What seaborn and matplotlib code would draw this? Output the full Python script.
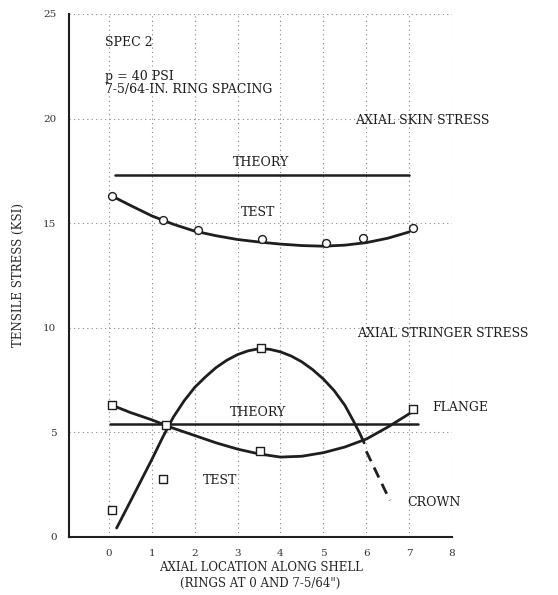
import numpy as np
import pandas as pd
import seaborn as sns
import matplotlib
matplotlib.use('Agg')
import matplotlib.pyplot as plt

# axial skin stress (upper group)
skin_theory_x = [0.14, 7.0]
skin_theory_y = [17.3, 17.3]
skin_test_x = [0.07, 1.26, 2.07, 3.57, 5.06, 5.92, 7.09]
skin_test_y = [16.3, 15.15, 14.67, 14.24, 14.05, 14.3, 14.77]
skin_fit_x = [0.07, 0.5, 1.0, 1.5, 2.0, 2.5, 3.0, 3.5, 4.0, 4.5, 5.0, 5.5, 6.0, 6.5, 7.0]
skin_fit_y = [16.3, 15.85, 15.35, 14.95, 14.62, 14.4, 14.22, 14.1, 14.0, 13.93, 13.9, 13.95, 14.07, 14.28, 14.58]

# axial stringer stress (lower group)
str_theory_x = [0.02, 7.2]
str_theory_y = [5.4, 5.4]
flange_test_x = [0.07, 1.33, 3.52, 7.09]
flange_test_y = [6.3, 5.35, 4.1, 6.1]
flange_fit_x = [0.07, 0.5, 1.0, 1.5, 2.0, 2.5, 3.0, 3.5, 4.0, 4.5, 5.0, 5.5, 6.0, 6.5, 7.05]
flange_fit_y = [6.3, 5.95, 5.6, 5.2, 4.85, 4.5, 4.2, 3.97, 3.82, 3.86, 4.03, 4.3, 4.68, 5.25, 5.95]
crown_test_x = [0.07, 1.26, 3.54]
crown_test_y = [1.3, 2.75, 9.03]
crown_fit_x = [0.18, 0.5, 0.75, 1.0, 1.25, 1.5, 1.75, 2.0, 2.25, 2.5, 2.75, 3.0, 3.25, 3.5,
               3.75, 4.0, 4.25, 4.5, 4.75, 5.0, 5.25, 5.5, 5.7, 5.85, 5.95]
crown_fit_y = [0.43, 1.7, 2.7, 3.7, 4.75, 5.72, 6.5, 7.15, 7.65, 8.1, 8.45, 8.72, 8.9, 9.0,
               8.97, 8.85, 8.65, 8.37, 8.0, 7.55, 7.0, 6.3, 5.55, 4.95, 4.5]
crown_dash_x = [6.0, 6.55]
crown_dash_y = [4.1, 1.75]

x_ticks = [0, 1, 2, 3, 4, 5, 6, 7, 8]
y_ticks = [0, 5, 10, 15, 20, 25]

sns.set_style("white")
plt.rcParams['font.family'] = ['DejaVu Serif']

fig = plt.figure(figsize=(5.58, 5.95), dpi=100)
ax = fig.add_axes([0.1237, 0.0975, 0.6864, 0.879])

ink = '#1e1e1e'

def line(xs, ys, **kw):
    df = pd.DataFrame({'x': xs, 'y': ys})
    sns.lineplot(data=df, x='x', y='y', estimator=None, sort=False, ax=ax, color=ink, **kw)

def pts(xs, ys, marker):
    df = pd.DataFrame({'x': xs, 'y': ys})
    sns.scatterplot(data=df, x='x', y='y', ax=ax, marker=marker, s=32,
                    facecolor='white', edgecolor=ink, linewidth=1.0, zorder=5)

line(skin_theory_x, skin_theory_y, linewidth=1.8)
line(skin_fit_x, skin_fit_y, linewidth=2.0)
pts(skin_test_x, skin_test_y, 'o')

line(str_theory_x, str_theory_y, linewidth=1.8)
line(flange_fit_x, flange_fit_y, linewidth=2.0)
line(crown_fit_x, crown_fit_y, linewidth=2.0)
line(crown_dash_x, crown_dash_y, linewidth=2.0, linestyle=(0, (4, 2.5)))
pts(flange_test_x, flange_test_y, 's')
pts(crown_test_x, crown_test_y, 's')

ax.set_xlim(-0.93, 8.0)
ax.set_ylim(0, 25)
ax.set_xticks(x_ticks)
ax.set_yticks(y_ticks)
ax.tick_params(length=0, labelsize=7.5, colors='#333333', pad=9)
ax.grid(True, linestyle=(0, (1, 3)), color='#888888', linewidth=0.8)
for s in ['top', 'right']:
    ax.spines[s].set_visible(False)
for s in ['left', 'bottom']:
    ax.spines[s].set_color(ink)
    ax.spines[s].set_linewidth(1.5)

ax.set_xlabel('AXIAL LOCATION ALONG SHELL\n(RINGS AT 0 AND 7-5/64")', fontsize=8.5,
              labelpad=2, linespacing=1.3)
ax.set_ylabel('TENSILE STRESS (KSI)', fontsize=8.5, labelpad=13)

tkw = dict(fontsize=9, color=ink, va='center', ha='left')
ax.text(-0.09, 23.65, 'SPEC 2', **tkw)
ax.text(-0.09, 22.0, 'p = 40 PSI', **tkw)
ax.text(-0.09, 21.4, '7-5/64-IN. RING SPACING', **tkw)
ax.text(5.73, 19.93, 'AXIAL SKIN STRESS', clip_on=False, **tkw)
ax.text(2.89, 17.88, 'THEORY', **tkw)
ax.text(3.08, 15.5, 'TEST', **tkw)
ax.text(5.78, 9.75, 'AXIAL STRINGER STRESS', clip_on=False, **tkw)
ax.text(2.82, 5.93, 'THEORY', **tkw)
ax.text(2.19, 2.72, 'TEST', **tkw)
ax.text(7.53, 6.2, 'FLANGE', clip_on=False, **tkw)
ax.text(6.95, 1.67, 'CROWN', **tkw)

fig.savefig('out.png', dpi=100)
